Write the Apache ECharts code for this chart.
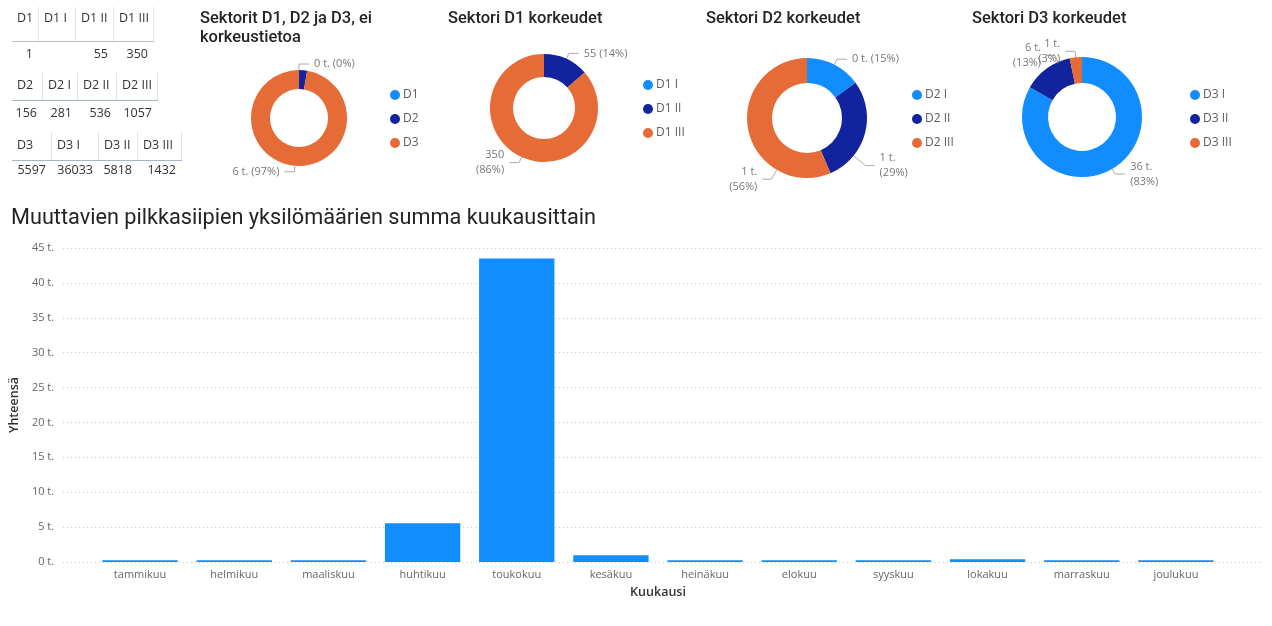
<!DOCTYPE html>
<html>
<head>
<meta charset="utf-8">
<script src="https://cdn.jsdelivr.net/npm/echarts@6/dist/echarts.min.js"></script>
<style>
html,body{margin:0;padding:0;background:#fff;width:1272px;height:626px;overflow:hidden;}
#chart{position:absolute;left:0;top:0;width:1272px;height:626px;}
.tbl{position:absolute;font-family:'Open Sans',sans-serif;font-size:12.5px;color:#333;}
.hcell{position:absolute;top:0;box-sizing:border-box;border-right:1px solid #e4e4e4;padding-left:5px;white-space:nowrap;}
.uline{position:absolute;height:1px;}
.vcell{position:absolute;box-sizing:border-box;text-align:right;padding-right:6px;white-space:nowrap;}
</style>
</head>
<body>
<div id="chart"></div>
<script>
// ---- data ----
const tableHeaders1 = ["D1", "D1 I", "D1 II", "D1 III"];
const tableValues1  = [1, null, 55, 350];
const tableHeaders2 = ["D2", "D2 I", "D2 II", "D2 III"];
const tableValues2  = [156, 281, 536, 1057];
const tableHeaders3 = ["D3", "D3 I", "D3 II", "D3 III"];
const tableValues3  = [5597, 36033, 5818, 1432];

const noHeightNames = ["D1", "D2", "D3"];
const noHeightValues = [tableValues1[0], tableValues2[0], tableValues3[0]];
const d1Names = ["D1 I", "D1 II", "D1 III"];
const d1Values = [0, 55, 350];
const d2Names = ["D2 I", "D2 II", "D2 III"];
const d2Values = [281, 536, 1057];
const d3Names = ["D3 I", "D3 II", "D3 III"];
const d3Values = [36033, 5818, 1432];

const months = ["tammikuu","helmikuu","maaliskuu","huhtikuu","toukokuu","kesäkuu","heinäkuu","elokuu","syyskuu","lokakuu","marraskuu","joulukuu"];
const monthTotals = [0.25, 0.25, 0.25, 5.55, 43.5, 0.95, 0.25, 0.25, 0.25, 0.4, 0.25, 0.25]; // thousands
const yTicks = [0, 5, 10, 15, 20, 25, 30, 35, 40, 45];

// ---- tables (HTML) ----
function makeTable(headers, values, cfg) {
  const d = document.createElement('div');
  d.className = 'tbl';
  d.style.left = cfg.left + 'px';
  d.style.top = cfg.top + 'px';
  const e = cfg.edges;
  for (let i = 0; i < headers.length; i++) {
    const h = document.createElement('div');
    h.className = 'hcell';
    h.style.left = e[i] + 'px';
    h.style.width = (e[i + 1] - e[i]) + 'px';
    h.style.height = cfg.hh + 'px';
    h.style.paddingTop = cfg.pad + 'px';
    h.textContent = headers[i];
    d.appendChild(h);
    const v = document.createElement('div');
    v.className = 'vcell';
    v.style.left = e[i] + 'px';
    v.style.width = (e[i + 1] - e[i]) + 'px';
    v.style.top = cfg.vt + 'px';
    v.textContent = values[i] == null ? '' : String(values[i]);
    d.appendChild(v);
  }
  const u = document.createElement('div');
  u.className = 'uline';
  u.style.left = '0px';
  u.style.top = cfg.hh + 'px';
  u.style.width = e[e.length - 1] + 'px';
  u.style.background = cfg.line;
  d.appendChild(u);
  document.body.appendChild(d);
}
makeTable(tableHeaders1, tableValues1, { left: 12, top: 7, hh: 34, pad: 2, vt: 38, edges: [0, 27, 64, 102, 142], line: '#b8c4cf' });
makeTable(tableHeaders2, tableValues2, { left: 12, top: 73, hh: 27, pad: 3, vt: 31, edges: [0, 31, 66, 105, 146], line: '#9fb8d2' });
makeTable(tableHeaders3, tableValues3, { left: 12, top: 132, hh: 28, pad: 4, vt: 29, edges: [0, 40, 87, 126, 170], line: '#9fb8d2' });

// ---- chart ----
const C_LIGHT = '#118DFF', C_NAVY = '#12239E', C_ORANGE = '#E66C37';
const pieColors = [C_LIGHT, C_NAVY, C_ORANGE];
const FONT = "'Open Sans', sans-serif";
const TFONT = "Roboto, sans-serif";

function pieData(names, values, hideIdx) {
  return names.map((n, i) => ({
    name: n, value: values[i],
    label: { show: values[i] > 0 && !(hideIdx || []).includes(i) },
    labelLine: { show: values[i] > 0 && !(hideIdx || []).includes(i) }
  }));
}
function fmt(thousands, wrapIdx) {
  return function (p) {
    const v = thousands ? Math.round(p.value / 1000) + ' t.' : String(p.value);
    const pc = '(' + Math.round(p.percent) + '%)';
    return v + ((wrapIdx || []).includes(p.dataIndex) ? '\n' : ' ') + pc;
  };
}
// nudges: data index -> [dx, dy] moving a label toward where the reference puts it
function pieSeries(center, radius, data, formatter, nudges) {
  const s = {
    type: 'pie', center: center, radius: radius, startAngle: 90, clockwise: true,
    color: pieColors, data: data, silent: true,
    avoidLabelOverlap: true,
    label: { formatter: formatter, fontFamily: FONT, fontSize: 11, color: '#777', lineHeight: 15 },
    labelLine: { length: 6, length2: 10, lineStyle: { color: '#aaa', width: 1 } },
    itemStyle: { borderWidth: 0 }
  };
  if (nudges) {
    s.labelLayout = function (p) {
      const n = nudges[p.dataIndex];
      if (!n) return {};
      const pts = p.labelLinePoints;
      if (!pts) return { dx: n[0], dy: n[1] };
      const E = [pts[2][0] + n[0], pts[2][1] + n[1]];
      const side = pts[2][0] >= pts[1][0] ? 1 : -1;
      const M = [E[0] - side * 9, E[1]];
      const vx = M[0] - center[0], vy = M[1] - center[1];
      const L = Math.hypot(vx, vy);
      const S = [center[0] + vx / L * radius[1], center[1] + vy / L * radius[1]];
      return { dx: n[0], dy: n[1], labelLinePoints: [S, M, E] };
    };
  }
  return s;
}
function legend(names, left, top) {
  return {
    data: names, left: left, top: top, orient: 'vertical', icon: 'circle',
    itemWidth: 10, itemHeight: 10, itemGap: 12, padding: 0, selectedMode: false,
    textStyle: { fontFamily: FONT, fontSize: 12, color: '#605E5C', padding: [0, 0, 0, -2] }
  };
}
const titleStyle = { fontFamily: TFONT, fontSize: 16.5, fontWeight: 500, color: '#252423', lineHeight: 19 };

const option = {
  animation: false,
  title: [
    { text: 'Sektorit D1, D2 ja D3, ei\nkorkeustietoa', left: 200, top: 9, padding: 0, textStyle: titleStyle },
    { text: 'Sektori D1 korkeudet', left: 448, top: 9, padding: 0, textStyle: titleStyle },
    { text: 'Sektori D2 korkeudet', left: 706, top: 9, padding: 0, textStyle: titleStyle },
    { text: 'Sektori D3 korkeudet', left: 972, top: 9, padding: 0, textStyle: titleStyle },
    { text: 'Muuttavien pilkkasiipien yksilömäärien summa kuukausittain', left: 11, top: 208, padding: 0,
      textStyle: { fontFamily: TFONT, fontSize: 21.7, fontWeight: 400, color: '#252423' } }
  ],
  legend: [
    legend(noHeightNames, 390, 89),
    legend(d1Names, 643, 79),
    legend(d2Names, 912, 89),
    legend(d3Names, 1190, 89)
  ],
  grid: [
    { left: 93, right: 49, top: 248, bottom: 64 },
    { left: 62, right: 10, top: 248, bottom: 64 }
  ],
  xAxis: [
    { gridIndex: 0, type: 'category', data: months,
      axisLine: { show: false }, axisTick: { show: false },
      axisLabel: { color: '#666', fontFamily: FONT, fontSize: 11, margin: 7 },
      name: 'Kuukausi', nameLocation: 'middle', nameGap: 24,
      nameTextStyle: { fontFamily: FONT, fontSize: 12.5, fontWeight: 600, color: '#333' } },
    { gridIndex: 1, type: 'value', show: false, min: 0, max: 1 }
  ],
  yAxis: [
    { gridIndex: 0, type: 'value', min: yTicks[0], max: yTicks[yTicks.length - 1], interval: yTicks[1] - yTicks[0],
      show: false, splitLine: { show: false } },
    { gridIndex: 1, type: 'value', min: yTicks[0], max: yTicks[yTicks.length - 1], interval: yTicks[1] - yTicks[0],
      axisLine: { show: false }, axisTick: { show: false },
      axisLabel: { formatter: v => v + ' t.', color: '#666', fontFamily: FONT, fontSize: 11, margin: 9 },
      splitLine: { lineStyle: { type: [1, 3], color: '#c6c6c6', width: 1 } },
      name: 'Yhteensä', nameLocation: 'middle', nameGap: 37, nameRotate: 90,
      nameTextStyle: { fontFamily: FONT, fontSize: 12.5, fontWeight: 600, color: '#333' } }
  ],
  series: [
    pieSeries([299, 118], [29, 48], pieData(noHeightNames, noHeightValues, [1]), fmt(true, [])),
    pieSeries([544, 108], [31, 54], pieData(d1Names, d1Values), fmt(false, [2])),
    pieSeries([807, 118], [35, 60], pieData(d2Names, d2Values), fmt(true, [1, 2]), { 1: [-6, 30], 2: [30, 48] }),
    pieSeries([1082, 117], [34, 60], pieData(d3Names, d3Values), fmt(true, [0, 1, 2]), { 1: [26, -28] }),
    { type: 'bar', xAxisIndex: 0, yAxisIndex: 0, data: monthTotals, barCategoryGap: '20%',
      itemStyle: { color: C_LIGHT }, silent: true }
  ]
};
const chart = echarts.init(document.getElementById('chart'), null, { renderer: 'canvas' });
chart.setOption(option);
</script>
</body>
</html>
